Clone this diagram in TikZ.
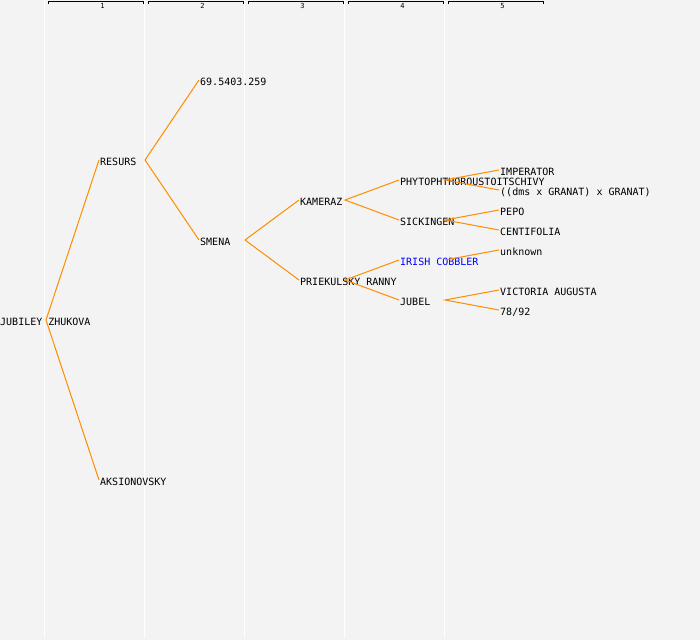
\documentclass[tikz,border=0pt]{standalone}
\usepackage{fontspec}
\newfontfamily\pedmono{DejaVu Sans Mono}
\definecolor{bgc}{HTML}{F3F3F3}
\definecolor{edgec}{HTML}{FF8C00}
\definecolor{bluec}{HTML}{0000FF}
\begin{document}
\begin{tikzpicture}[x=1pt,y=-1pt,
  pnode/.style={anchor=west, inner xsep=1pt, inner ysep=0pt, text height=10pt, text depth=0pt,
    font=\pedmono\fontsize{10}{10}\selectfont, text=black},
  link/.style={draw=edgec, line width=1pt},
  colline/.style={draw=white, line width=1.2pt},
  bracket/.style={draw=black, line width=1pt},
  hlabel/.style={inner sep=0pt, font=\pedmono\fontsize{7}{7}\selectfont}]
\useasboundingbox (0,0) rectangle (700,640);
\fill[bgc] (0,0) rectangle (700,640);
% column separators
\foreach \i in {0,...,4} {
  \draw[colline] (44.5+100*\i,0) -- (44.5+100*\i,638);
}
% column headers
\foreach \i in {1,...,5} {
  \draw[bracket] (48+100*\i-100,3.8) -- (48+100*\i-100,1.5) -- (143+100*\i-100,1.5) -- (143+100*\i-100,3.8);
  \node[hlabel] (h\i) at (102.5+100*\i-100,5.8) {\i};
}
% nodes
\node[pnode] (root) at (-1,320) {JUBILEY ZHUKOVA};
\node[pnode] (resurs) at (99,160) {RESURS};
\node[pnode] (aksio) at (99,480) {AKSIONOVSKY};
\node[pnode] (n695) at (199,80) {69.5403.259};
\node[pnode] (smena) at (199,240) {SMENA};
\node[pnode] (kameraz) at (299,200) {KAMERAZ};
\node[pnode] (priek) at (299,280) {PRIEKULSKY RANNY};
\node[pnode] (phyto) at (399,180) {PHYTOPHTHOROUSTOITSCHIVY};
\node[pnode] (sick) at (399,220) {SICKINGEN};
\node[pnode, text=bluec] (irish) at (399,260) {IRISH COBBLER};
\node[pnode] (jubel) at (399,300) {JUBEL};
\node[pnode] (imper) at (499,170) {IMPERATOR};
\node[pnode] (dms) at (499,190) {((dms x GRANAT) x GRANAT)};
\node[pnode] (pepo) at (499,210) {PEPO};
\node[pnode] (centi) at (499,230) {CENTIFOLIA};
\node[pnode] (unkn) at (499,250) {unknown};
\node[pnode] (vict) at (499,290) {VICTORIA AUGUSTA};
\node[pnode] (n7892) at (499,310) {78/92};
% fork points
\coordinate (root-f) at (46,320);
\coordinate (resurs-f) at (145,160);
\coordinate (smena-f) at (245,240);
\coordinate (kameraz-f) at (345,200);
\coordinate (priek-f) at (345,280);
\coordinate (phyto-f) at (445,180);
\coordinate (sick-f) at (445,220);
\coordinate (irish-f) at (445,260);
\coordinate (jubel-f) at (445,300);
% connectors
\draw[link] (resurs.west) -- (root-f) -- (aksio.west);
\draw[link] (n695.west) -- (resurs-f) -- (smena.west);
\draw[link] (kameraz.west) -- (smena-f) -- (priek.west);
\draw[link] (phyto.west) -- (kameraz-f) -- (sick.west);
\draw[link] (irish.west) -- (priek-f) -- (jubel.west);
\draw[link] (imper.west) -- (phyto-f) -- (dms.west);
\draw[link] (pepo.west) -- (sick-f) -- (centi.west);
\draw[link] (irish-f) -- (unkn.west);
\draw[link] (vict.west) -- (jubel-f) -- (n7892.west);
\end{tikzpicture}
\end{document}
